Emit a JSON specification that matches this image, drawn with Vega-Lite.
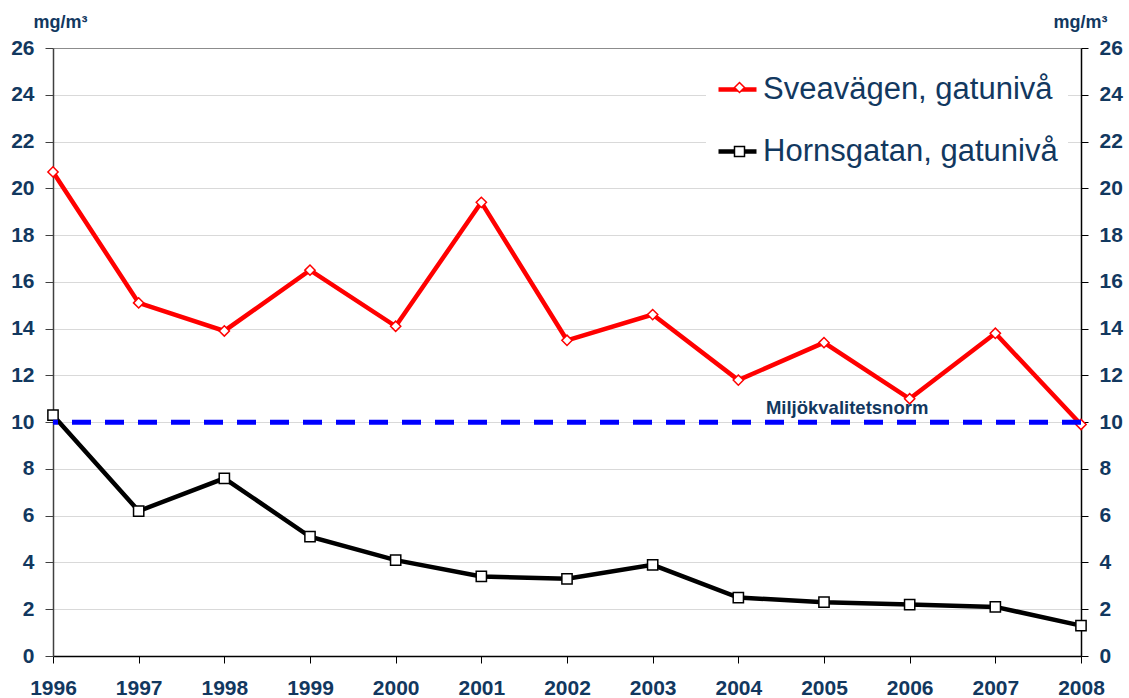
{
  "$schema": "https://vega.github.io/schema/vega-lite/v6.json",
  "width": 1028,
  "height": 608,
  "autosize": {"type": "none"},
  "padding": {"left": 53, "top": 48, "right": 48, "bottom": 42},
  "background": "white",
  "config": {
    "view": {"stroke": null},
    "font": "Liberation Sans",
    "axis": {
      "labelFont": "Liberation Sans",
      "labelFontWeight": "bold",
      "labelFontSize": 21,
      "labelColor": "#12385f",
      "titleFont": "Liberation Sans",
      "titleFontWeight": "bold",
      "titleFontSize": 18,
      "titleColor": "#12385f",
      "tickColor": "#404040",
      "domainColor": "#000000",
      "gridColor": "#d9d9d9",
      "labelOverlap": false,
      "labelFlush": false
    }
  },
  "datasets": {
    "series": [
      {"year": 1996, "site": "Sveavägen, gatunivå", "value": 20.7},
      {"year": 1997, "site": "Sveavägen, gatunivå", "value": 15.1},
      {"year": 1998, "site": "Sveavägen, gatunivå", "value": 13.9},
      {"year": 1999, "site": "Sveavägen, gatunivå", "value": 16.5},
      {"year": 2000, "site": "Sveavägen, gatunivå", "value": 14.1},
      {"year": 2001, "site": "Sveavägen, gatunivå", "value": 19.4},
      {"year": 2002, "site": "Sveavägen, gatunivå", "value": 13.5},
      {"year": 2003, "site": "Sveavägen, gatunivå", "value": 14.6},
      {"year": 2004, "site": "Sveavägen, gatunivå", "value": 11.8},
      {"year": 2005, "site": "Sveavägen, gatunivå", "value": 13.4},
      {"year": 2006, "site": "Sveavägen, gatunivå", "value": 11.0},
      {"year": 2007, "site": "Sveavägen, gatunivå", "value": 13.8},
      {"year": 2008, "site": "Sveavägen, gatunivå", "value": 9.9},
      {"year": 1996, "site": "Hornsgatan, gatunivå", "value": 10.3},
      {"year": 1997, "site": "Hornsgatan, gatunivå", "value": 6.2},
      {"year": 1998, "site": "Hornsgatan, gatunivå", "value": 7.6},
      {"year": 1999, "site": "Hornsgatan, gatunivå", "value": 5.1},
      {"year": 2000, "site": "Hornsgatan, gatunivå", "value": 4.1},
      {"year": 2001, "site": "Hornsgatan, gatunivå", "value": 3.4},
      {"year": 2002, "site": "Hornsgatan, gatunivå", "value": 3.3},
      {"year": 2003, "site": "Hornsgatan, gatunivå", "value": 3.9},
      {"year": 2004, "site": "Hornsgatan, gatunivå", "value": 2.5},
      {"year": 2005, "site": "Hornsgatan, gatunivå", "value": 2.3},
      {"year": 2006, "site": "Hornsgatan, gatunivå", "value": 2.2},
      {"year": 2007, "site": "Hornsgatan, gatunivå", "value": 2.1},
      {"year": 2008, "site": "Hornsgatan, gatunivå", "value": 1.3}
    ],
    "norm": [
      {"year": 2005.27, "value": 10, "label": "Miljökvalitetsnorm"}
    ]
  },
  "layer": [
    {
      "data": {"name": "series"},
      "mark": {"type": "line", "strokeWidth": 4.5},
      "encoding": {
        "x": {
          "field": "year", "type": "quantitative",
          "scale": {"domain": [1996, 2008], "nice": false, "zero": false},
          "axis": {
            "values": [1996, 1997, 1998, 1999, 2000, 2001, 2002, 2003, 2004, 2005, 2006, 2007, 2008],
            "format": "d", "title": null, "grid": false,
            "tickSize": 7, "labelPadding": 14, "tickColor": "#000000", "domainColor": "#000000", "domainWidth": 1.5
          }
        },
        "y": {
          "field": "value", "type": "quantitative",
          "scale": {"domain": [0, 26], "nice": false, "zero": true},
          "axis": {
            "orient": "left",
            "values": [0, 2, 4, 6, 8, 10, 12, 14, 16, 18, 20, 22, 24, 26],
            "title": "mg/m³", "titleAngle": 0, "titleX": 7, "titleY": -26,
            "titleAlign": "center", "titleBaseline": "middle",
            "tickSize": 8, "labelPadding": 11,
            "domainColor": "#404040", "domainWidth": 1.5,
            "grid": true,
            "gridColor": {"condition": {"test": "datum.value === 26", "value": "#8c8c8c"}, "value": "#d9d9d9"}
          }
        },
        "color": {
          "field": "site", "type": "nominal",
          "sort": ["Sveavägen, gatunivå", "Hornsgatan, gatunivå"],
          "scale": {"range": ["#ff0000", "#000000"]},
          "legend": {
            "title": null, "orient": "none", "legendX": 653, "legendY": 10,
            "symbolType": "stroke", "symbolStrokeWidth": 4.5, "symbolSize": 1444,
            "labelFont": "Liberation Sans", "labelFontSize": 31, "labelColor": "#12385f",
            "labelLimit": 0, "fillColor": "white", "padding": 10, "rowPadding": 25, "labelOffset": 4
          }
        }
      }
    },
    {
      "data": {"name": "series"},
      "mark": {"type": "point", "filled": true, "fill": "white", "strokeWidth": 1.5, "opacity": 1, "size": 105},
      "encoding": {
        "x": {"field": "year", "type": "quantitative"},
        "y": {
          "field": "value", "type": "quantitative",
          "axis": {
            "orient": "right",
            "values": [0, 2, 4, 6, 8, 10, 12, 14, 16, 18, 20, 22, 24, 26],
            "title": "mg/m³", "titleAngle": 0, "titleX": -1, "titleY": -26,
            "titleAlign": "center", "titleBaseline": "middle",
            "tickSize": 7, "labelPadding": 11, "tickColor": "#000000",
            "domainColor": "#000000", "domainWidth": 1.5, "grid": false
          }
        },
        "stroke": {
          "field": "site", "type": "nominal",
          "scale": {"domain": ["Sveavägen, gatunivå", "Hornsgatan, gatunivå"], "range": ["#ff0000", "#000000"]},
          "legend": null
        },
        "shape": {
          "field": "site", "type": "nominal",
          "scale": {"domain": ["Sveavägen, gatunivå", "Hornsgatan, gatunivå"], "range": ["diamond", "square"]},
          "legend": {
            "title": null, "orient": "none", "legendX": 671, "legendY": 24,
            "symbolSize": 100, "symbolStrokeWidth": 1.5, "symbolFillColor": "white",
            "labelFontSize": 31, "labelExpr": "''", "labelLimit": 0,
            "padding": 0, "rowPadding": 32, "labelOffset": 5
          }
        }
      }
    },
    {
      "data": {"name": "norm"},
      "mark": {"type": "rule", "color": "#0000ff", "strokeWidth": 5, "strokeDash": [19, 14]},
      "encoding": {"y": {"field": "value", "type": "quantitative", "axis": null}}
    },
    {
      "data": {"name": "norm"},
      "mark": {"type": "text", "font": "Liberation Sans", "fontWeight": "bold", "fontSize": 18.5, "color": "#12385f", "align": "center", "baseline": "middle", "dy": -14},
      "encoding": {
        "x": {"field": "year", "type": "quantitative"},
        "y": {"field": "value", "type": "quantitative", "axis": null},
        "text": {"field": "label"}
      }
    }
  ],
  "resolve": {"axis": {"y": "independent"}}
}
